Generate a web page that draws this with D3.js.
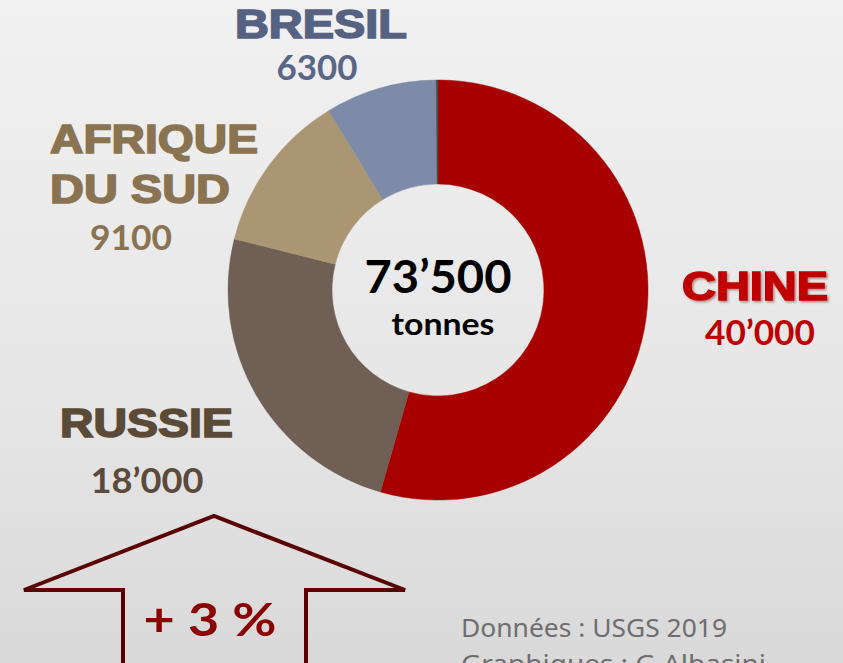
<!DOCTYPE html>
<html>
<head>
<meta charset="utf-8">
<script src="https://cdn.jsdelivr.net/npm/d3@7"></script>
<style>
  html, body { margin: 0; padding: 0; overflow: hidden; }
  svg { display: block; }
</style>
</head>
<body>
<div id="chart"></div>
<script>
// Data: production by country (tonnes), clockwise from the top
const countries = ["CHINE", "RUSSIE", "AFRIQUE DU SUD", "BRESIL", "AUTRES"];
const tonnes = [40000, 18000, 9100, 6300, 100];
const valueLabels = ["40’000", "18’000", "9100", "6300", ""];
const totalLabel = "73’500";
const unitLabel = "tonnes";
const growthLabel = "+ 3 %";
const sourceLines = ["Données : USGS 2019", "Graphiques : G Albasini"];

const width = 843, height = 663;
const cx = 438, cy = 290;
const outerR = 210, innerR = 106;

const sliceColors = ["#a80000", "#6f5f55", "#ab9674", "#7e8ba8", "#4a4a4a"];

let svg = d3.select("#chart")
    .append("svg")
    .attr("width", width)
    .attr("height", height);

let defs = svg.append("defs");

// background: light grey paper
let bg = defs.append("linearGradient")
    .attr("id", "bg")
    .attr("x1", 0).attr("y1", 0).attr("x2", 0).attr("y2", 1);
bg.append("stop").attr("offset", "0%").attr("stop-color", "#f1f1f1");
bg.append("stop").attr("offset", "60%").attr("stop-color", "#e6e6e6");
bg.append("stop").attr("offset", "100%").attr("stop-color", "#d9d9d9");

// soft shadow used on the CHINE label
let shadow = defs.append("filter").attr("id", "shadow")
    .attr("x", "-10%").attr("y", "-20%").attr("width", "130%").attr("height", "150%");
shadow.append("feDropShadow")
    .attr("dx", 1.5).attr("dy", 1.5).attr("stdDeviation", 1.2)
    .attr("flood-color", "#700000").attr("flood-opacity", 0.45);

svg.append("rect")
    .attr("width", width)
    .attr("height", height)
    .attr("fill", "url(#bg)");

// Donut
let pie = d3.pie().sort(null).value(d => d);
let arc = d3.arc().innerRadius(innerR).outerRadius(outerR);

let donut = svg.append("g")
    .attr("transform", `translate(${cx}, ${cy})`);

donut.selectAll("path")
    .data(pie(tonnes))
    .enter().append("path")
    .attr("d", arc)
    .attr("fill", (d, i) => sliceColors[i])
    .attr("stroke", (d, i) => sliceColors[i])
    .attr("stroke-width", 0.5);

// Centre total
const numFont = "Lato, 'Noto Sans', sans-serif";
const headFont = "'Arial Black', 'Liberation Sans', Arial, sans-serif";

donut.append("text")
    .attr("x", 0).attr("y", 3)
    .attr("text-anchor", "middle")
    .attr("font-family", numFont)
    .attr("font-weight", 700)
    .attr("font-size", 46)
    .attr("textLength", 147)
    .attr("lengthAdjust", "spacingAndGlyphs")
    .attr("fill", "#000")
    .text(totalLabel);

donut.append("text")
    .attr("x", 5).attr("y", 45)
    .attr("text-anchor", "middle")
    .attr("font-family", numFont)
    .attr("font-weight", 700)
    .attr("font-size", 30)
    .attr("textLength", 103)
    .attr("lengthAdjust", "spacingAndGlyphs")
    .attr("fill", "#000")
    .text(unitLabel);

// Country labels (layout only, values come from the arrays above)
const labelLayout = [
    {name: [[682, 300, 146]], value: [760, 345, 110], color: "#c00000", vcolor: "#c00000", shadow: true},
    {name: [[60, 437, 173]], value: [147, 493, 113], color: "#5b4a36", vcolor: "#5b4a3c"},
    {name: [[50, 153, 208], [50, 203, 180]], value: [131, 250, 82], color: "#8a7350", vcolor: "#8a7350"},
    {name: [[235, 38, 172]], value: [317, 80, 81], color: "#566282", vcolor: "#5a6686"},
];

labelLayout.forEach((l, i) => {
    let lines = l.name.length > 1 ? ["AFRIQUE", "DU SUD"] : [countries[i]];
    if (l.name.length > 1) lines = [countries[i].split(" ")[0], countries[i].split(" ").slice(1).join(" ")];
    l.name.forEach((p, j) => {
        svg.append("text")
            .attr("x", p[0]).attr("y", p[1])
            .attr("font-family", headFont)
            .attr("font-weight", 900)
            .attr("font-size", 40)
            .attr("textLength", p[2])
            .attr("lengthAdjust", "spacingAndGlyphs")
            .attr("fill", l.color)
            .attr("stroke", l.color)
            .attr("stroke-width", 1.6)
            .attr("filter", l.shadow ? "url(#shadow)" : null)
            .text(lines[j]);
    });
    svg.append("text")
        .attr("x", l.value[0]).attr("y", l.value[1])
        .attr("text-anchor", "middle")
        .attr("font-family", numFont)
        .attr("font-weight", 700)
        .attr("font-size", 35)
        .attr("textLength", l.value[2])
        .attr("lengthAdjust", "spacingAndGlyphs")
        .attr("fill", l.vcolor)
        .text(valueLabels[i]);
});

// Growth arrow (outline)
let arrowPts = [[123, 668], [123, 590], [24, 590], [214, 516], [405, 590], [306, 590], [306, 668]];
svg.append("path")
    .attr("d", d3.line()(arrowPts))
    .attr("fill", "none")
    .attr("stroke", "#5a0000")
    .attr("stroke-width", 4)
    .attr("stroke-linejoin", "miter");

svg.append("text")
    .attr("x", 210).attr("y", 636)
    .attr("text-anchor", "middle")
    .attr("font-family", numFont)
    .attr("font-weight", 700)
    .attr("font-size", 46)
    .attr("textLength", 133)
    .attr("lengthAdjust", "spacingAndGlyphs")
    .attr("fill", "#8b0000")
    .text(growthLabel);

// Source
sourceLines.forEach((s, i) => {
    svg.append("text")
        .attr("x", 461).attr("y", 637 + i * 36)
        .attr("font-family", "'Noto Sans', sans-serif")
        .attr("font-weight", 400)
        .attr("font-size", 26)
        .attr("textLength", i === 0 ? 266 : 305)
        .attr("lengthAdjust", "spacingAndGlyphs")
        .attr("fill", "#6e6e6e")
        .text(s);
});
</script>
</body>
</html>
